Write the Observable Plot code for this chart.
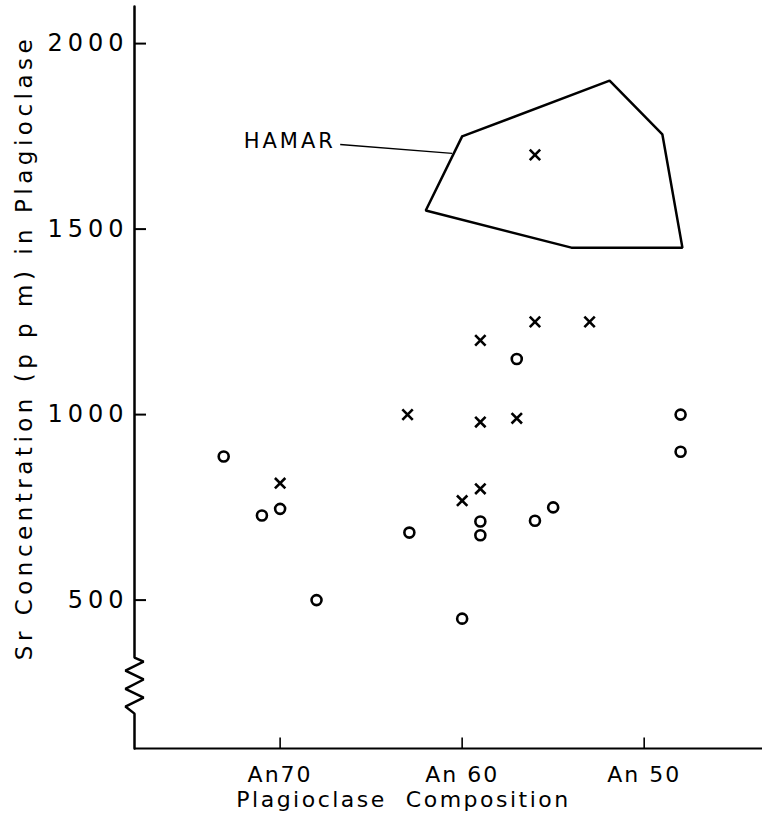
<!DOCTYPE html>
<html>
<head>
<meta charset="utf-8">
<script src="https://cdn.jsdelivr.net/npm/d3@7"></script>
<script src="https://cdn.jsdelivr.net/npm/@observablehq/plot@0.6"></script>
<style>
  html, body { margin: 0; padding: 0; background: #fff; }
  #chart svg { display: block; }
</style>
</head>
<body>
<div id="chart"></div>
<script>
// ---- data ----
const circleAn = [73.1, 71, 70, 68, 62.9, 60, 59, 59, 57, 56, 55, 48, 48];
const circleSr = [887, 728, 746, 500, 682, 450, 712, 675, 1150, 714, 750, 1000, 900];

const crossAn = [70, 63, 60, 59, 59, 59, 57, 56, 53, 56];
const crossSr = [815, 1000, 768, 1200, 980, 800, 990, 1250, 1250, 1700];

const hamarAn = [60, 51.9, 49, 47.9, 54, 62, 60];
const hamarSr = [1750, 1900, 1755, 1450, 1450, 1550, 1750];

const hamarLabel = "HAMAR";
const hamarLabelAn = 72;
const hamarLabelSr = 1736;
const leaderAn = [66.7, 60.55];
const leaderSr = [1728, 1704];

const xTickValues = [70, 60, 50];
const xTickLabels = ["An70", "An 60", "An 50"];
const yTickValues = [500, 1000, 1500, 2000];
const yTickLabels = ["500", "1000", "1500", "2000"];

const breakSr = [345, 334, 310, 286, 261, 237, 213, 194];
const breakSide = [0, 1, -1, 1, -1, 1, -1, 0];

const xTitle = "Plagioclase  Composition";
const yTitle = "Sr Concentration (p p m) in Plagioclase";

// ---- build tables ----
const X0 = 78, X1 = 43.5, Y0 = 100, Y1 = 2100;
const circles = circleAn.map((a, i) => ({an: a, sr: circleSr[i]}));
const crosses = crossAn.map((a, i) => ({an: a, sr: crossSr[i]}));
const hamar = hamarAn.map((a, i) => ({an: a, sr: hamarSr[i]}));
const yAxisPath = [{an: X0, sr: Y1}]
  .concat(breakSr.map((s, i) => ({an: X0 - breakSide[i] * 0.5, sr: s})))
  .concat([{an: X0, sr: Y0}]);

const font = "DejaVu Sans";

const chart = Plot.plot({
  width: 773,
  height: 823,
  marginLeft: 134,
  marginRight: 11,
  marginTop: 6,
  marginBottom: 75,
  style: {fontFamily: font, background: "#fff", color: "#000"},
  x: {domain: [X0, X1], axis: null},
  y: {domain: [Y0, Y1], axis: null},
  marks: [
    // axes
    Plot.line(yAxisPath, {x: "an", y: "sr", stroke: "#000", strokeWidth: 2.5, strokeLinejoin: "miter"}),
    Plot.ruleY([Y0], {x1: X0, x2: X1, stroke: "#000", strokeWidth: 2.2}),
    Plot.ruleY(yTickValues, {y: d => d, x1: X0, x2: X0 - 0.66, stroke: "#000", strokeWidth: 2}),
    Plot.ruleX(xTickValues, {x: d => d, y1: Y0, y2: Y0 + 28, stroke: "#000", strokeWidth: 1.6}),
    Plot.text(yTickValues, {x: X0, y: d => d, text: (d, i) => yTickLabels[i], textAnchor: "end", dx: -6, fontSize: 24, fill: "#000"}),
    Plot.text(xTickValues, {x: d => d, y: Y0, text: (d, i) => xTickLabels[i], dy: 26, fontSize: 22, fill: "#000"}),
    // HAMAR field
    Plot.line(hamar, {x: "an", y: "sr", stroke: "#000", strokeWidth: 2.5, strokeLinejoin: "miter"}),
    Plot.link([0], {x1: () => leaderAn[0], y1: () => leaderSr[0], x2: () => leaderAn[1], y2: () => leaderSr[1], stroke: "#000", strokeWidth: 1.3}),
    Plot.text([hamarLabel], {x: () => hamarLabelAn, y: () => hamarLabelSr, text: d => d, textAnchor: "start", fontSize: 21, fill: "#000"}),
    // points
    Plot.dot(circles, {x: "an", y: "sr", r: 5, stroke: "#000", strokeWidth: 2.6, fill: "none"}),
    Plot.dot(crosses, {x: "an", y: "sr", symbol: "times", r: 4.8, stroke: "#000", strokeWidth: 2.6}),
    // titles
    Plot.text([xTitle], {frameAnchor: "bottom", text: d => d, textAnchor: "middle", dx: -45, dy: 58, fontSize: 22, fill: "#000"}),
    Plot.text([yTitle], {frameAnchor: "left", text: d => d, textAnchor: "middle", rotate: -90, dx: -110, dy: -30, fontSize: 23, fill: "#000"})
  ]
});

document.getElementById("chart").appendChild(chart);

// letter spacing tweaks
d3.select(chart).selectAll("text").each(function () {
  const t = this.textContent;
  let ls = 0;
  if (yTickLabels.includes(t)) ls = 5;
  else if (xTickLabels.includes(t)) ls = 2;
  else if (t === hamarLabel) ls = 3;
  else if (t === xTitle) ls = 2.5;
  else if (t === yTitle) ls = 4.5;
  if (ls) this.style.letterSpacing = ls + "px";
  this.style.whiteSpace = "pre";
});
</script>
</body>
</html>
